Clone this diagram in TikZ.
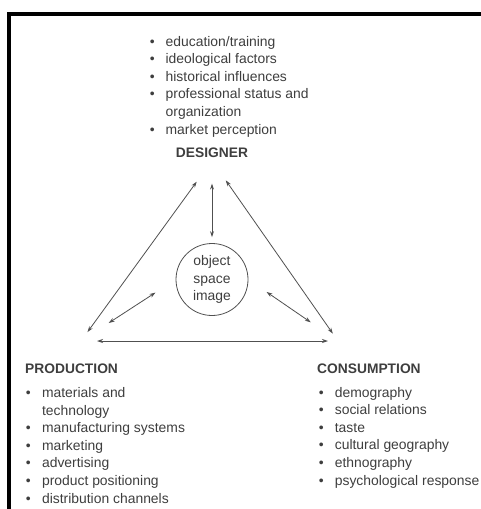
\documentclass[tikz,border=0pt]{standalone}
\usepackage{fontspec}
\setmainfont{Liberation Sans}
\usetikzlibrary{positioning, arrows.meta}
\definecolor{inkgray}{RGB}{62,62,62}
\definecolor{linegray}{RGB}{80,80,80}

\begin{document}
\begin{tikzpicture}[x=1pt, y=-1pt,
     node distance = 3mm and 3mm,
                  >= {Stealth[length=6pt,width=4pt]},
     every node/.style = {text=inkgray, font=\fontsize{13.9}{17.6}\selectfont},
       head/.style = {inner sep=3pt, font=\fontsize{13.8}{17.6}\selectfont\bfseries},
       list/.style = {inner sep=0pt, anchor=base west},
       link/.style = {<->, draw=linegray, line width=0.8pt}
                        ]
\useasboundingbox (0,0) rectangle (481,509);
\draw[line width=4pt] (481,14) -- (8.5,14) -- (8.5,509);
% headings and lists
\node (dlist) [list] at (149.6,46) {\begin{tabular}[t]{@{}l@{\hspace{11pt}}l@{}}
  \textbullet & education/training\\
  \textbullet & ideological factors\\
  \textbullet & historical influences\\
  \textbullet & professional status and\\
              & organization\\
  \textbullet & market perception
  \end{tabular}};
\node (designer) [head, anchor=base] at (212,157.3) {DESIGNER};
\node (production) [head, anchor=base west, inner sep=0pt] at (25,373.3) {PRODUCTION};
\node (plist) [list] at (25.6,397.5) {\begin{tabular}[t]{@{}l@{\hspace{11.4pt}}l@{}}
  \textbullet & materials and\\
              & technology\\
  \textbullet & manufacturing systems\\
  \textbullet & marketing\\
  \textbullet & advertising\\
  \textbullet & product positioning\\
  \textbullet & distribution channels
  \end{tabular}};
\node (consumption) [head, anchor=base west, inner sep=0pt] at (317,373.3) {CONSUMPTION};
\node (clist) [list] at (318.6,397) {\begin{tabular}[t]{@{}l@{\hspace{11.2pt}}l@{}}
  \textbullet & demography\\
  \textbullet & social relations\\
  \textbullet & taste\\
  \textbullet & cultural geography\\
  \textbullet & ethnography\\
  \textbullet & psychological response
  \end{tabular}};
% centre
\node (obj) [circle, draw=linegray, line width=0.8pt, minimum size=72pt,
             inner sep=0pt, align=center] at (212,279.5) {object\\space\\image};
\coordinate (pcorner) at (81,341);
\coordinate (ccorner) at (338,341);
% arrows
\draw[link, shorten <=26pt, shorten >=11pt] (designer.south) -- (pcorner);
\draw[link, shorten <=23pt, shorten >=6pt] (designer.south) -- (obj);
\draw[link, shorten <=24pt, shorten >=9pt] (designer.south) -- (ccorner);
\draw[link, shorten <=16pt, shorten >=10pt] (pcorner) -- (ccorner);
\draw[link, shorten <=33pt, shorten >=24pt] (pcorner) -- (obj.west);
\draw[link, shorten <=33pt, shorten >=22pt] (ccorner) -- (obj.east);
\end{tikzpicture}
\end{document}
